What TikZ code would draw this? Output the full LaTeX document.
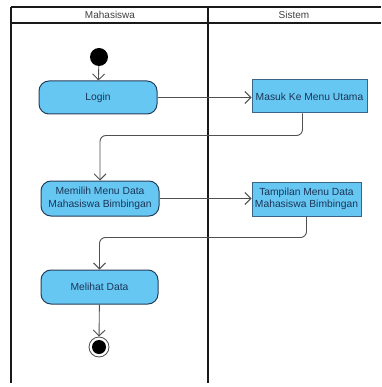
\documentclass[tikz,border=0pt]{standalone}
\usepackage{fontspec}
\setmainfont{Liberation Sans}
\usetikzlibrary{arrows.meta}
\definecolor{actfill}{RGB}{102,200,242}
\definecolor{actline}{RGB}{38,62,92}
\definecolor{boxline}{RGB}{60,100,135}
\definecolor{acttext}{RGB}{28,52,88}
\definecolor{flowline}{RGB}{80,80,80}
\definecolor{lane}{RGB}{25,25,25}
\tikzset{
  lanestroke/.style={draw=lane, line width=1.4pt},
  lanetitle/.style={text=black!75, font=\fontsize{10}{12}\selectfont},
  action/.style={draw=actline, line width=1pt, fill=actfill, rounded corners=10pt,
    text=acttext, align=center, inner sep=0pt, font=\fontsize{10.3}{12.6}\selectfont},
  sysbox/.style={draw=boxline, line width=1pt, fill=actfill,
    text=acttext, align=center, inner sep=0pt, font=\fontsize{10.3}{12.6}\selectfont},
  initnode/.style={circle, fill=black, minimum size=18pt, inner sep=0pt},
  finalnode/.style={circle, draw=black!70, fill=white, line width=0.8pt, minimum size=20pt, inner sep=0pt,
    path picture={\fill[black] (path picture bounding box.center) circle (7pt);}},
  flow/.style={draw=flowline, line width=0.9pt, -{Straight Barb[length=6pt,width=12pt]}},
}
\begin{document}
\begin{tikzpicture}[x=1pt,y=-1pt]
\useasboundingbox[fill=white] (0,0) rectangle (381,387);

% swimlanes
\draw[lanestroke] (11,7) -- (381,7);
\draw[lanestroke] (11,23) -- (381,23);
\draw[lanestroke] (11,7) -- (11,383);
\draw[lanestroke] (208,7) -- (208,383);
\node[lanetitle] (laneA) at (110,15) {Mahasiswa};
\node[lanetitle] (laneB) at (294,15) {Sistem};

% actions
\node[initnode] (start) at (99,57) {};
\node[action, minimum width=118pt, minimum height=33pt] (login) at (98,97.5) {Login};
\node[sysbox, minimum width=115pt, minimum height=33pt] (masuk) at (309.5,96.5) {Masuk Ke Menu Utama};
\node[action, minimum width=118pt, minimum height=35pt] (memilih) at (100,198.5) {Memilih Menu Data\\Mahasiswa Bimbingan};
\node[sysbox, minimum width=109pt, minimum height=34pt] (tampil) at (306.5,199) {Tampilan Menu Data\\Mahasiswa Bimbingan};
\node[action, minimum width=117pt, minimum height=34pt] (melihat) at (99.5,287) {Melihat Data};
\node[finalnode] (final) at (99,347) {};

% control flows
\draw[flow] (start) -- (login);
\draw[flow] (login.east) -- (masuk.west |- login.east);
\draw[flow, rounded corners=6pt] ([xshift=-7pt]masuk.south) -- ++(0,22) -| (memilih.north);
\draw[flow] (memilih.east) -- (tampil.west |- memilih.east);
\draw[flow, rounded corners=6pt] (tampil.south) -- ++(0,21) -| (melihat.north);
\draw[flow] (melihat) -- (final);
\end{tikzpicture}
\end{document}
